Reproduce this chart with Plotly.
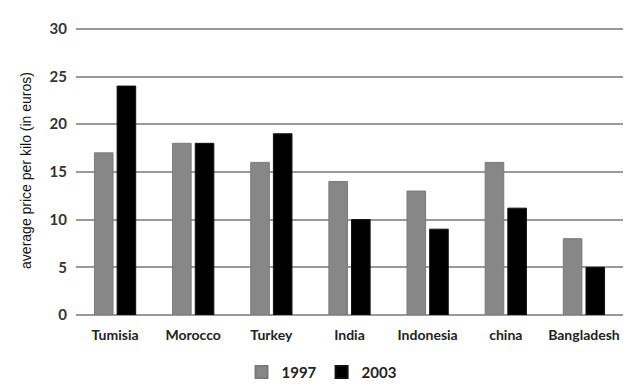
import plotly.graph_objects as go

countries = ["Tumisia", "Morocco", "Turkey", "India", "Indonesia", "china", "Bangladesh"]
prices_1997 = [17, 18, 16, 14, 13, 16, 8]
prices_2003 = [24, 18, 19, 10, 9, 11.2, 5]
y_ticks = [0, 5, 10, 15, 20, 25, 30]

fig = go.Figure()
fig.add_trace(go.Bar(x=countries, y=prices_1997, name="1997",
                     marker=dict(color="#878787", line=dict(color="#7a7a7a", width=1))))
fig.add_trace(go.Bar(x=countries, y=prices_2003, name="2003",
                     marker=dict(color="#000000", line=dict(color="#111111", width=1))))

fig.update_layout(
    width=643, height=387,
    margin=dict(l=76, r=20, t=26, b=72, autoexpand=False),
    paper_bgcolor="white", plot_bgcolor="white",
    barmode="group", bargap=0.42, bargroupgap=0.18,
    font=dict(family="Lato", color="#222"),
    showlegend=True,
    legend=dict(orientation="h", x=0.5, xanchor="center", xref="container",
                y=0.038, yanchor="middle", yref="container",
                font=dict(size=15, color="#222", weight="bold"), itemwidth=30,
                traceorder="normal", itemsizing="constant"),
    xaxis=dict(showgrid=False, showline=False, ticks="", ticklabelstandoff=10,
               tickfont=dict(size=14, color="#222", weight="bold")),
    yaxis=dict(range=[0, 30.3], tickvals=y_ticks, showgrid=True, gridcolor="#999999",
               gridwidth=2, zeroline=True, zerolinecolor="#999999", zerolinewidth=2,
               showline=False, ticks="", ticklabelstandoff=8,
               tickfont=dict(size=15, color="#333", weight="bold"),
               title=dict(text="average price per kilo (in euros)", standoff=14,
                          font=dict(size=14, color="#111", family="Liberation Sans, Arial"))),
)

fig.write_html("out.html")
